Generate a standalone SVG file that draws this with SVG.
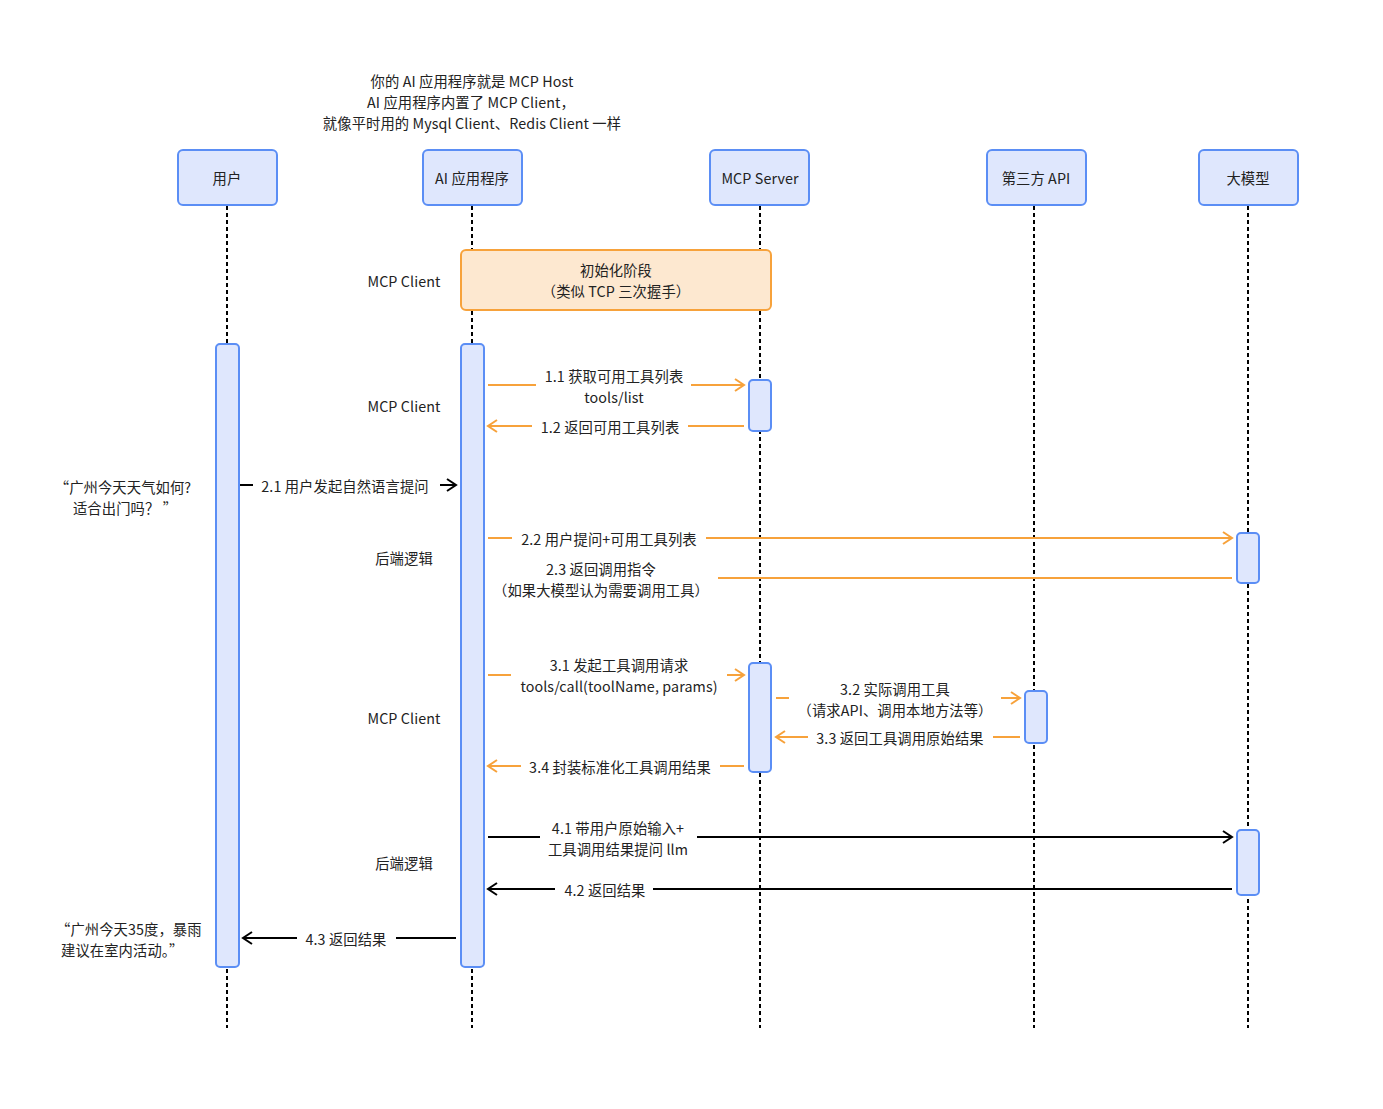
<svg xmlns="http://www.w3.org/2000/svg" width="1383" height="1109" viewBox="0 0 1383 1109">
<defs>
<marker id="ao" markerWidth="12" markerHeight="14" refX="10" refY="7" orient="auto" markerUnits="userSpaceOnUse"><path d="M1,1 L10,7 L1,13" fill="none" stroke="#f7a23b" stroke-width="2"/></marker>
<marker id="ab" markerWidth="12" markerHeight="14" refX="10" refY="7" orient="auto" markerUnits="userSpaceOnUse"><path d="M1,1 L10,7 L1,13" fill="none" stroke="#000" stroke-width="2"/></marker>
</defs>
<style>
text{font-family:"Noto Sans CJK SC","Noto Sans",sans-serif;font-size:14.3px;fill:#222;text-anchor:middle;dominant-baseline:central;letter-spacing:0.1px}
.head{fill:#dfe7fd;stroke:#5b8ef5;stroke-width:2}
.act{fill:#dfe7fd;stroke:#5b8ef5;stroke-width:2}
.life{stroke:#000;stroke-width:2;stroke-dasharray:4 3;fill:none}
.o{stroke:#f7a23b;stroke-width:2;fill:none}
.b{stroke:#000;stroke-width:2;fill:none}
.l{text-anchor:start}
</style>
<rect width="1383" height="1109" fill="#fff"/>
<g id="lifelines">
<line class="life" x1="227" y1="206" x2="227" y2="1028"/>
<line class="life" x1="472" y1="206" x2="472" y2="1028"/>
<line class="life" x1="760" y1="206" x2="760" y2="1028"/>
<line class="life" x1="1034" y1="206" x2="1034" y2="1028"/>
<line class="life" x1="1248" y1="206" x2="1248" y2="1028"/>
</g>
<g id="note-top">
<text x="472" y="80">你的 AI 应用程序就是 MCP Host</text>
<text x="471" y="101">AI 应用程序内置了 MCP Client，</text>
<text x="472" y="122">就像平时用的 Mysql Client、Redis Client 一样</text>
</g>
<g id="user"><rect class="head" x="178" y="150" width="99" height="55" rx="5"/><text x="227" y="177">用户</text></g>
<g id="app"><rect class="head" x="423" y="150" width="99" height="55" rx="5"/><text x="472" y="177">AI 应用程序</text></g>
<g id="server"><rect class="head" x="710" y="150" width="99" height="55" rx="5"/><text x="760" y="177">MCP Server</text></g>
<g id="api"><rect class="head" x="987" y="150" width="99" height="55" rx="5"/><text x="1036" y="177">第三方 API</text></g>
<g id="llm"><rect class="head" x="1199" y="150" width="99" height="55" rx="5"/><text x="1248" y="177">大模型</text></g>
<g id="init"><rect x="461" y="250" width="310" height="60" rx="5" fill="#fde8d0" stroke="#f7a23b" stroke-width="2"/><text x="616" y="269">初始化阶段</text><text x="616" y="290">（类似 TCP 三次握手）</text></g>
<g id="activations">
<rect class="act" x="216" y="344" width="23" height="623" rx="4"/>
<rect class="act" x="461" y="344" width="23" height="623" rx="4"/>
<rect class="act" x="749" y="380" width="22" height="51" rx="4"/>
<rect class="act" x="749" y="663" width="22" height="109" rx="4"/>
<rect class="act" x="1025" y="691" width="22" height="52" rx="4"/>
<rect class="act" x="1237" y="533" width="22" height="50" rx="4"/>
<rect class="act" x="1237" y="830" width="22" height="65" rx="4"/>
</g>
<g id="phase-labels">
<text x="404" y="280">MCP Client</text>
<text x="404" y="405">MCP Client</text>
<text x="404" y="557">后端逻辑</text>
<text x="404" y="717">MCP Client</text>
<text x="404" y="862">后端逻辑</text>
</g>
<g id="notes">
<text x="123" y="486">“广州今天天气如何?</text>
<text x="125" y="507">适合出门吗？ ”</text>
<text class="l" x="56" y="928">“广州今天35度，暴雨</text>
<text class="l" x="61" y="949">建议在室内活动。”</text>
</g>
<g id="connectors">
<line class="o" x1="488" y1="385" x2="536" y2="385"/>
<line class="o" x1="691" y1="385" x2="744" y2="385" marker-end="url(#ao)"/>
<line class="o" x1="744" y1="426" x2="688" y2="426"/>
<line class="o" x1="532" y1="426" x2="488" y2="426" marker-end="url(#ao)"/>
<line class="b" x1="240" y1="485" x2="253" y2="485"/>
<line class="b" x1="440" y1="485" x2="456" y2="485" marker-end="url(#ab)"/>
<line class="o" x1="488" y1="538" x2="512" y2="538"/>
<line class="o" x1="706" y1="538" x2="1232" y2="538" marker-end="url(#ao)"/>
<line class="o" x1="1232" y1="578" x2="718" y2="578"/>
<line class="o" x1="488" y1="675" x2="511" y2="675"/>
<line class="o" x1="727" y1="675" x2="744" y2="675" marker-end="url(#ao)"/>
<line class="o" x1="776" y1="698" x2="789" y2="698"/>
<line class="o" x1="1001" y1="698" x2="1020" y2="698" marker-end="url(#ao)"/>
<line class="o" x1="1020" y1="737" x2="993" y2="737"/>
<line class="o" x1="808" y1="737" x2="776" y2="737" marker-end="url(#ao)"/>
<line class="o" x1="744" y1="766" x2="720" y2="766"/>
<line class="o" x1="521" y1="766" x2="488" y2="766" marker-end="url(#ao)"/>
<line class="b" x1="488" y1="837" x2="540" y2="837"/>
<line class="b" x1="697" y1="837" x2="1232" y2="837" marker-end="url(#ab)"/>
<line class="b" x1="1232" y1="889" x2="653" y2="889"/>
<line class="b" x1="555" y1="889" x2="488" y2="889" marker-end="url(#ab)"/>
<line class="b" x1="456" y1="938" x2="396" y2="938"/>
<line class="b" x1="297" y1="938" x2="243" y2="938" marker-end="url(#ab)"/>
</g>
<g id="connector-labels">
<text x="614" y="375">1.1 获取可用工具列表</text>
<text x="614" y="396">tools/list</text>
<text x="610" y="426">1.2 返回可用工具列表</text>
<text x="345" y="485">2.1 用户发起自然语言提问</text>
<text x="609" y="538">2.2 用户提问+可用工具列表</text>
<text x="601" y="568">2.3 返回调用指令</text>
<text x="601" y="589">（如果大模型认为需要调用工具）</text>
<text x="619" y="664">3.1 发起工具调用请求</text>
<text x="619" y="685">tools/call(toolName, params)</text>
<text x="895" y="688">3.2 实际调用工具</text>
<text x="895" y="709">（请求API、调用本地方法等）</text>
<text x="900" y="737">3.3 返回工具调用原始结果</text>
<text x="620" y="766">3.4 封装标准化工具调用结果</text>
<text x="618" y="827">4.1 带用户原始输入+</text>
<text x="618" y="848">工具调用结果提问 llm</text>
<text x="605" y="889">4.2 返回结果</text>
<text x="346" y="938">4.3 返回结果</text>
</g>
</svg>
